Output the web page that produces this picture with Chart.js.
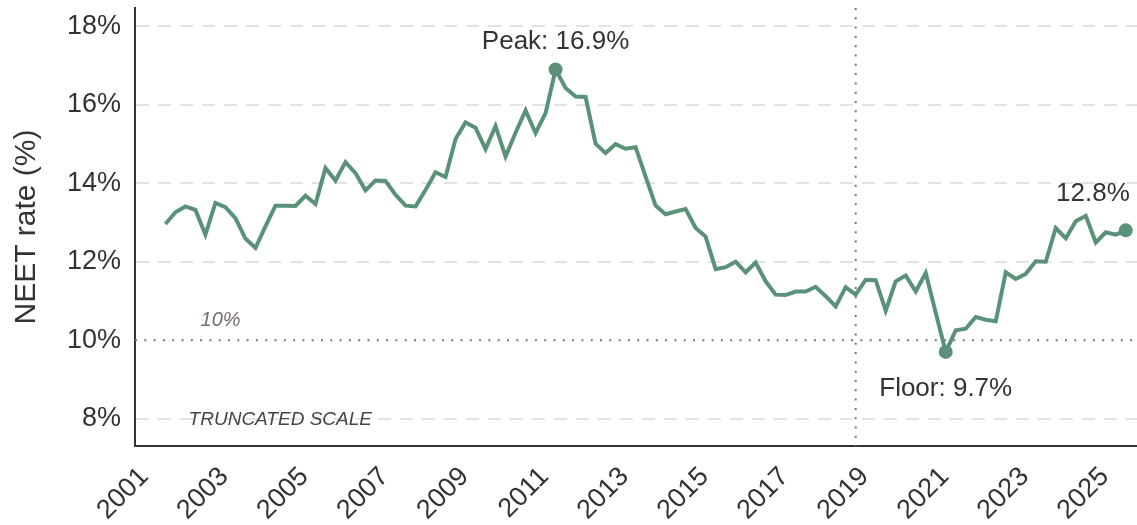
<!DOCTYPE html>
<html>
<head>
<meta charset="utf-8">
<script src="https://cdn.jsdelivr.net/npm/chart.js@4.4.1/dist/chart.umd.min.js"></script>
<style>
  html, body { margin: 0; padding: 0; background: #fff; overflow: hidden; }
  #wrap { width: 1137px; height: 525px; position: relative; }
  canvas { display: block; }
</style>
</head>
<body>
<div id="wrap"><canvas id="neetChart"></canvas></div>
<script>
// Quarterly NEET rate (%), 2001 Q2 -> 2025 Q2
const firstYear = 2001, firstQ = 2;
const lastYear = 2025, lastQ = 2;

const neetRate = [
  12.96, 13.26, 13.41, 13.32, 12.69, 13.50, 13.39, 13.11, 12.59, 12.35,
  12.90, 13.43, 13.43, 13.42, 13.68, 13.47, 14.39, 14.07, 14.54, 14.26,
  13.82, 14.07, 14.06, 13.71, 13.43, 13.41, 13.83, 14.28, 14.16, 15.13,
  15.55, 15.42, 14.87, 15.46, 14.68, 15.29, 15.86, 15.28, 15.79, 16.90,
  16.43, 16.21, 16.20, 15.01, 14.77, 15.00, 14.88, 14.92, 14.17, 13.43,
  13.21, 13.28, 13.34, 12.86, 12.64, 11.81, 11.86, 12.00, 11.73, 11.98,
  11.50, 11.16, 11.15, 11.24, 11.24, 11.36, 11.12, 10.86, 11.35, 11.16,
  11.54, 11.53, 10.75, 11.50, 11.65, 11.24, 11.71, 10.70, 9.70, 10.25,
  10.29, 10.59, 10.52, 10.48, 11.73, 11.56, 11.69, 12.01, 12.00, 12.86,
  12.60, 13.03, 13.17, 12.49, 12.75, 12.69, 12.80
];

const yTickValues = [8, 10, 12, 14, 16, 18];
const xTickYears = [2001, 2003, 2005, 2007, 2009, 2011, 2013, 2015, 2017, 2019, 2021, 2023, 2025];
const referenceRate = 10;        // dotted horizontal line
const markerQuarter = '2018 Q3'; // dotted vertical line

// quarter labels
const quarters = [];
for (let y = firstYear, q = firstQ; y < lastYear || (y === lastYear && q <= lastQ); ) {
  quarters.push(y + ' Q' + q);
  q++;
  if (q > 4) { q = 1; y++; }
}

// mid-quarter position on a decimal-year axis
function quarterToYear(label) {
  const parts = label.split(' Q');
  return Number(parts[0]) + (Number(parts[1]) - 1) * 0.25 + 0.15;
}

const points = neetRate.map((v, i) => ({ x: quarterToYear(quarters[i]), y: v }));

const peakIdx = neetRate.indexOf(Math.max(...neetRate));
const floorIdx = neetRate.indexOf(Math.min(...neetRate));
const lastIdx = neetRate.length - 1;
const highlighted = [peakIdx, floorIdx, lastIdx];

const lineColor = '#5a9279';
const fontFamily = '"Liberation Sans", Arial, sans-serif';
const noPadding = () => ({ left: 0, right: 0, top: 0, bottom: 0 });

const annotations = {
  id: 'annotations',
  beforeDatasetsDraw(chart) {
    const { ctx, chartArea, scales: { x, y } } = chart;
    ctx.save();
    ctx.strokeStyle = '#7d7370';
    ctx.lineWidth = 2;
    ctx.setLineDash([2, 7.3]);
    const yRef = y.getPixelForValue(referenceRate);
    ctx.beginPath();
    ctx.moveTo(chartArea.left, yRef);
    ctx.lineTo(chartArea.right, yRef);
    ctx.stroke();
    const xRef = x.getPixelForValue(quarterToYear(markerQuarter));
    ctx.beginPath();
    ctx.moveTo(xRef, chartArea.top);
    ctx.lineTo(xRef, chartArea.bottom);
    ctx.stroke();
    ctx.restore();
  },
  afterDatasetsDraw(chart) {
    const { ctx, scales: { x, y } } = chart;
    ctx.save();
    ctx.textBaseline = 'middle';

    // peak / floor / latest
    ctx.fillStyle = '#333';
    ctx.font = '26px ' + fontFamily;
    let p = points[peakIdx];
    ctx.textAlign = 'center';
    ctx.fillText('Peak: ' + p.y.toFixed(1) + '%', x.getPixelForValue(p.x), y.getPixelForValue(p.y) - 28);
    p = points[floorIdx];
    ctx.fillText('Floor: ' + p.y.toFixed(1) + '%', x.getPixelForValue(p.x), y.getPixelForValue(p.y) + 37);
    p = points[lastIdx];
    ctx.textAlign = 'right';
    ctx.fillText(p.y.toFixed(1) + '%', x.getPixelForValue(p.x) + 4, y.getPixelForValue(p.y) - 37);

    // reference line label
    ctx.textAlign = 'center';
    ctx.fillStyle = '#766d68';
    ctx.font = 'italic 20px ' + fontFamily;
    ctx.fillText(referenceRate + '%', x.getPixelForValue(2002.78), y.getPixelForValue(referenceRate) - 20);

    // truncated axis note
    ctx.textAlign = 'left';
    ctx.fillStyle = '#444';
    ctx.font = 'italic 19px ' + fontFamily;
    ctx.fillText('TRUNCATED SCALE', x.getPixelForValue(2001.98), y.getPixelForValue(yTickValues[0]) + 1);
    ctx.restore();
  }
};

new Chart(document.getElementById('neetChart'), {
  type: 'line',
  data: {
    datasets: [{
      label: 'NEET rate',
      data: points,
      borderColor: lineColor,
      backgroundColor: lineColor,
      borderWidth: 4,
      tension: 0,
      pointRadius: ctx => highlighted.includes(ctx.dataIndex) ? 7 : 0,
      pointHoverRadius: 0,
      pointBorderWidth: 0
    }]
  },
  options: {
    responsive: true,
    maintainAspectRatio: false,
    animation: false,
    layout: { autoPadding: false, padding: { top: 8, right: 0, bottom: 0, left: 0 } },
    plugins: {
      legend: { display: false },
      tooltip: { enabled: false }
    },
    scales: {
      x: {
        type: 'linear',
        min: 2000.64,
        max: 2025.68,
        afterBuildTicks: scale => { scale.ticks = xTickYears.map(v => ({ value: v })); },
        afterFit: scale => {
          scale.height = 79;
          scale.paddingLeft = 0;
          scale.paddingRight = 0;
          scale.getPadding = noPadding;
        },
        grid: { display: false, drawTicks: false },
        border: { display: true, color: '#333', width: 2 },
        ticks: {
          autoSkip: false,
          minRotation: 45,
          maxRotation: 45,
          padding: 15,
          labelOffset: -5,
          color: '#333',
          font: { family: fontFamily, size: 27 },
          callback: v => String(v)
        }
      },
      y: {
        min: 7.3,
        max: 18.47,
        afterBuildTicks: scale => { scale.ticks = yTickValues.map(v => ({ value: v })); },
        afterFit: scale => {
          scale.width = 135;
          scale.paddingTop = 0;
          scale.paddingBottom = 0;
          scale.getPadding = noPadding;
        },
        grid: {
          drawTicks: false,
          lineWidth: 2,
          color: ctx => ctx.tick && ctx.tick.value === referenceRate ? 'rgba(0,0,0,0)' : '#e3e3e3'
        },
        border: { display: true, color: '#333', width: 2, dash: [13, 9] },
        title: {
          display: true,
          text: 'NEET rate (%)',
          color: '#333',
          font: { family: fontFamily, size: 30 },
          padding: { top: 9, bottom: 0 }
        },
        ticks: {
          padding: 14,
          color: '#333',
          font: { family: fontFamily, size: 27 },
          callback: v => v + '%'
        }
      }
    }
  },
  plugins: [annotations]
});
</script>
</body>
</html>
